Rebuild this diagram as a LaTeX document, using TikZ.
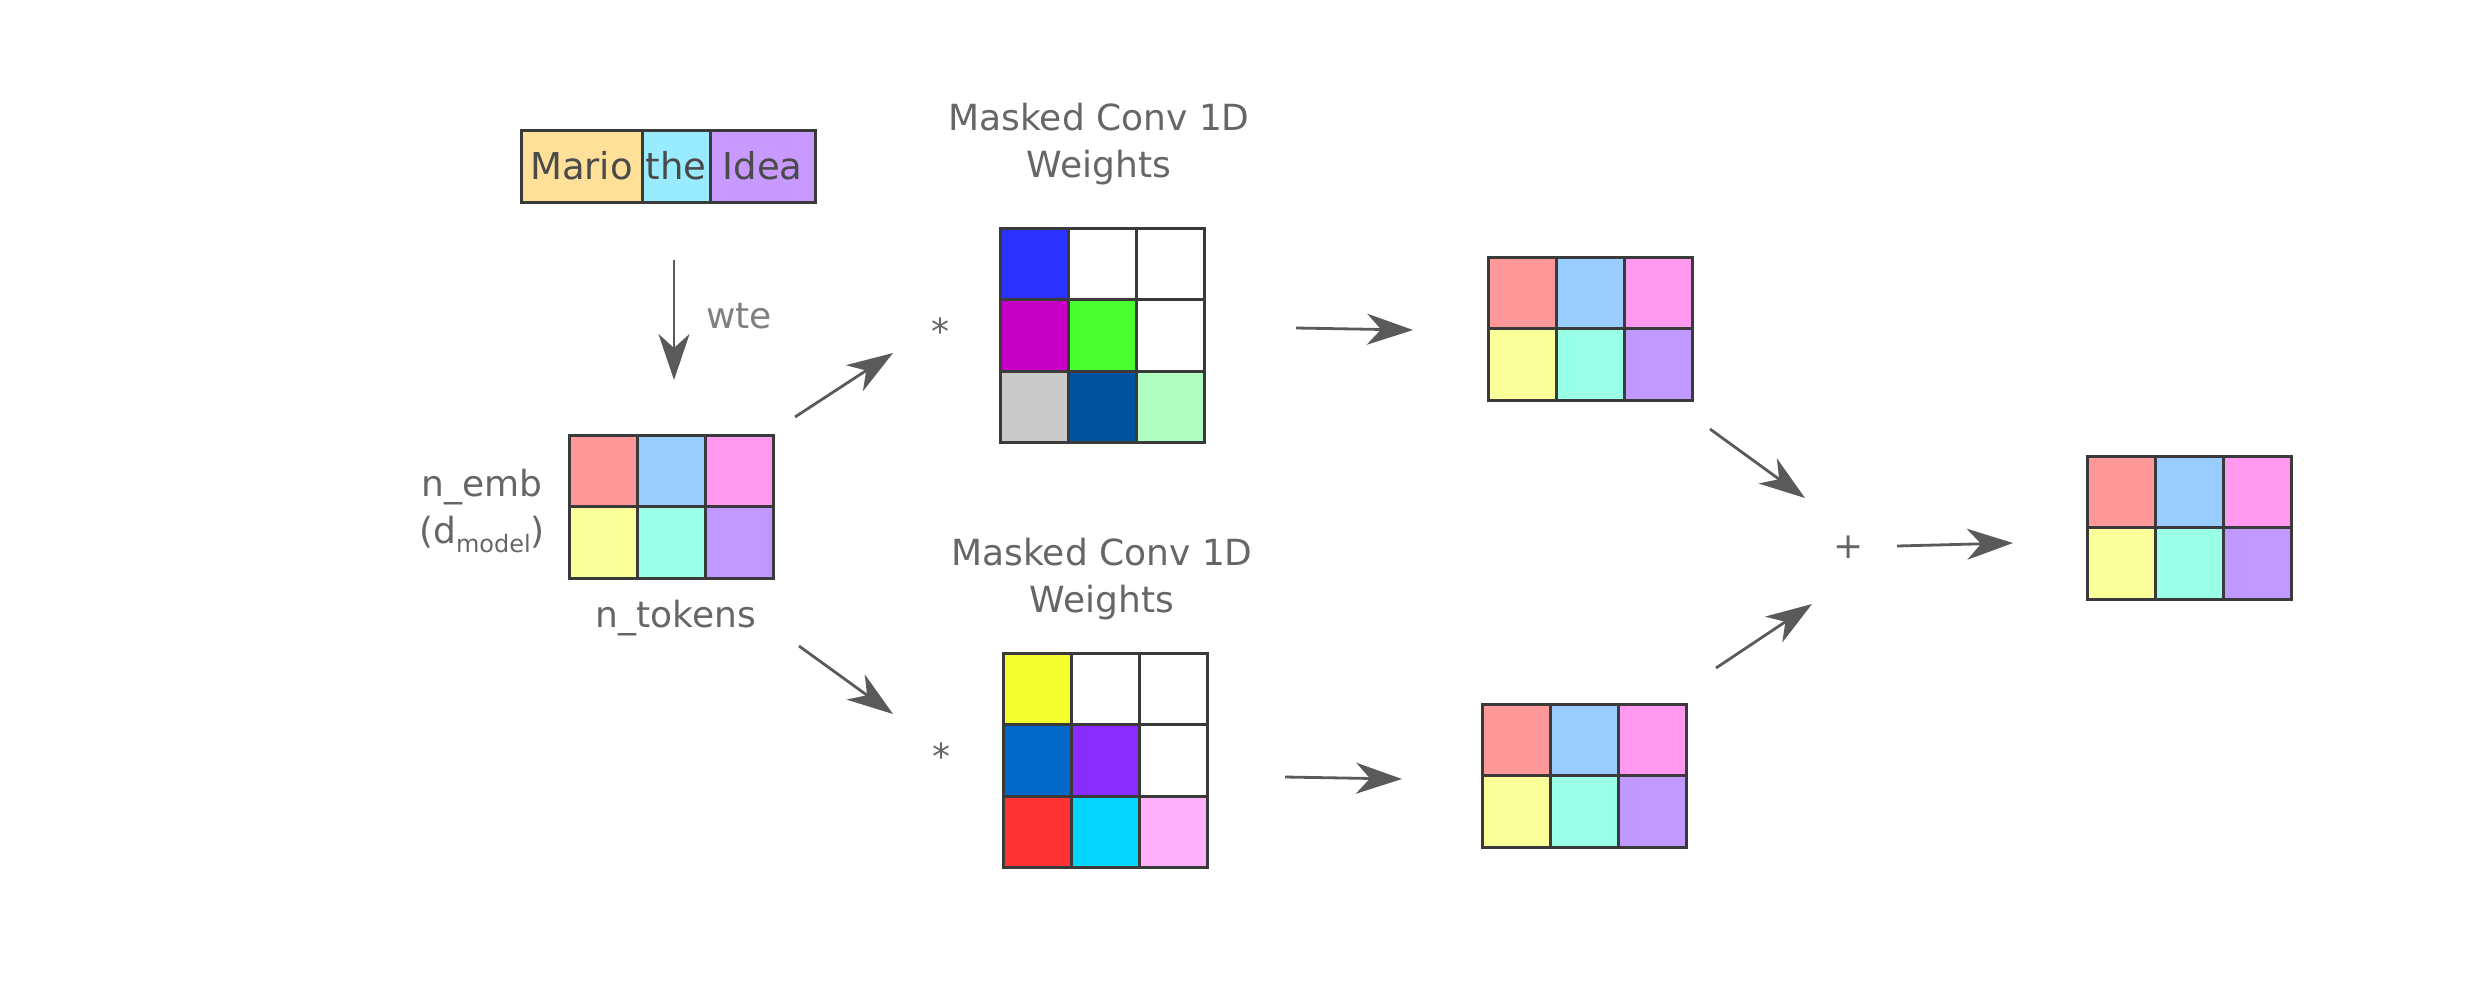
\documentclass[tikz,border=0pt]{standalone}
\usepackage{fontspec}
\setmainfont{DejaVu Sans}
\usetikzlibrary{arrows.meta}
\definecolor{cellborder}{HTML}{3A3A3A}
\definecolor{arrowgray}{HTML}{5A5A5A}
\definecolor{labelgray}{HTML}{666666}
\definecolor{wtegray}{HTML}{808080}
\definecolor{toktext}{HTML}{4A4A4A}
\definecolor{tokA}{HTML}{FFE099}
\definecolor{tokB}{HTML}{99ECFF}
\definecolor{tokC}{HTML}{C89AFF}
\definecolor{pR}{HTML}{FF9999}
\definecolor{pB}{HTML}{99CCFF}
\definecolor{pP}{HTML}{FF99F0}
\definecolor{pY}{HTML}{FAFF99}
\definecolor{pT}{HTML}{99FFE6}
\definecolor{pL}{HTML}{BF99FF}
\definecolor{cA}{HTML}{2B31FF}
\definecolor{cB}{HTML}{C600C6}
\definecolor{cC}{HTML}{4AFF2F}
\definecolor{cD}{HTML}{CACACA}
\definecolor{cE}{HTML}{00539F}
\definecolor{cF}{HTML}{B1FFC0}
\definecolor{dA}{HTML}{F3FF2F}
\definecolor{dB}{HTML}{0068C8}
\definecolor{dC}{HTML}{8A2BFF}
\definecolor{dD}{HTML}{FF3333}
\definecolor{dE}{HTML}{05D6FF}
\definecolor{dF}{HTML}{FFB1FB}
\newcommand\mkgrid[5]{%
  \foreach \c [count=\i from 0] in {#5} {
    \pgfmathtruncatemacro\gr{\i/#4}
    \pgfmathtruncatemacro\gc{\i-\gr*#4}
    \node[cell, fill=\c] (#1-\i) at ({#2+68*\gc},{#3+71.5*\gr}) {};
  }}
\begin{document}
\begin{tikzpicture}[x=0.5pt,y=-0.5pt,
  cell/.style={draw=cellborder, line width=1.5pt, minimum width=34pt, minimum height=35.75pt, anchor=north west, inner sep=0pt, outer sep=0pt},
  tok/.style={draw=cellborder, line width=1.5pt, minimum height=36pt, anchor=north west, inner sep=0pt, outer sep=0pt, text=toktext, font=\fontsize{18.5}{22}\selectfont},
  arr/.style={draw=arrowgray, line width=1.4pt, -{Stealth[length=23pt,width=15.5pt,inset=7pt]}},
  lbl/.style={text=labelgray, font=\fontsize{18}{23.5}\selectfont, inner sep=0pt, outer sep=0pt}]
\useasboundingbox (0,0) rectangle (2477,981);
% tokens
\node[tok, fill=tokA, minimum width=60.5pt] (mario) at (521,130) {Mario};
\node[tok, fill=tokB, minimum width=34pt] (the) at (642,130) {the};
\node[tok, fill=tokC, minimum width=52.5pt] (idea) at (710,130) {Idea};
% grids
\mkgrid{emb}{569}{435}{3}{pR,pB,pP,pY,pT,pL}
\mkgrid{convA}{1000}{228}{3}{cA,white,white,cB,cC,white,cD,cE,cF}
\mkgrid{convB}{1003}{653}{3}{dA,white,white,dB,dC,white,dD,dE,dF}
\mkgrid{outA}{1488}{257}{3}{pR,pB,pP,pY,pT,pL}
\mkgrid{outB}{1482}{704}{3}{pR,pB,pP,pY,pT,pL}
\mkgrid{fin}{2087}{456}{3}{pR,pB,pP,pY,pT,pL}
% labels (base anchor = baseline of last line)
\node[lbl, align=center, anchor=base] (mcA) at (1099,177) {Masked Conv 1D\\Weights};
\node[lbl, align=center, anchor=base] (mcB) at (1102,612) {Masked Conv 1D\\Weights};
\node[lbl, align=center, anchor=base] (nemb) at (482,543) {n\_emb\\(d\raisebox{-4.5pt}{\fontsize{12}{12}\selectfont model})};
\node[lbl, anchor=base] (ntok) at (676,627) {n\_tokens};
\node[lbl, text=wtegray, anchor=base west] (wte) at (706,328) {wte};
\node[lbl, anchor=base] (astA) at (940,344) {*};
\node[lbl, anchor=base] (astB) at (941,769) {*};
\node[lbl] (plus) at (1849,547) {+};
% arrow end points
\coordinate (w0) at (674,260); \coordinate (w1) at (674,380);
\coordinate (a0) at (795,417); \coordinate (a1) at (893,353);
\coordinate (b0) at (799,646); \coordinate (b1) at (893,714);
\coordinate (c0) at (1296,328); \coordinate (c1) at (1413,330);
\coordinate (d0) at (1285,777); \coordinate (d1) at (1402,779);
\coordinate (e0) at (1710,429); \coordinate (e1) at (1805,498);
\coordinate (f0) at (1716,668); \coordinate (f1) at (1812,604);
\coordinate (g0) at (1897,546); \coordinate (g1) at (2013,543);
\draw[arr] (w0) -- (w1);
\draw[arr] (a0) -- (a1);
\draw[arr] (b0) -- (b1);
\draw[arr] (c0) -- (c1);
\draw[arr] (d0) -- (d1);
\draw[arr] (e0) -- (e1);
\draw[arr] (f0) -- (f1);
\draw[arr] (g0) -- (g1);
\end{tikzpicture}
\end{document}
